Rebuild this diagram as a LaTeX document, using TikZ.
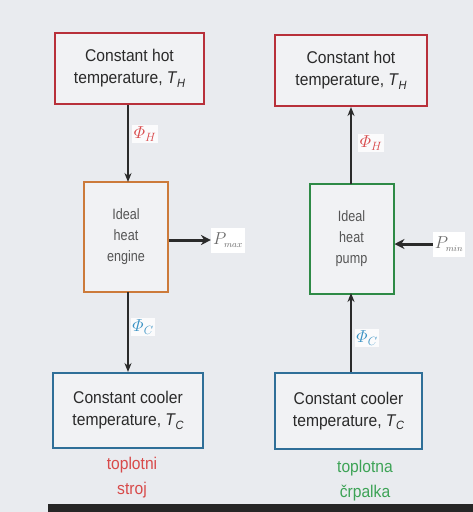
\documentclass[tikz,border=0pt]{standalone}
\usepackage{amsmath}
\usepackage{fontspec}
\setmainfont{Liberation Sans}
\newfontfamily\boxfont[FakeStretch=0.92]{Liberation Sans}
\newfontfamily\machfont[FakeStretch=0.84]{Liberation Sans}
\usetikzlibrary{arrows.meta}
\definecolor{bgc}{HTML}{E9EBEF}
\definecolor{boxfill}{HTML}{F1F2F4}
\definecolor{hotred}{HTML}{B8303A}
\definecolor{engor}{HTML}{CC7A3A}
\definecolor{pumpgreen}{HTML}{2E8A46}
\definecolor{coolbl}{HTML}{2F6F98}
\definecolor{phired}{HTML}{D8484A}
\definecolor{phiblue}{HTML}{3A92C4}
\definecolor{lblred}{HTML}{D84A4A}
\definecolor{lblgreen}{HTML}{3DA356}
\definecolor{inkc}{HTML}{2A2A2A}
\definecolor{machtext}{HTML}{555555}
\newcommand{\tsym}[1]{\textit{T\kern0.5pt\raisebox{-0.35ex}{\fontsize{12}{12}\selectfont #1}}}
\tikzset{
  resbox/.style={line width=2pt, fill=boxfill, align=center, inner sep=0pt,
    font=\boxfont\fontsize{17}{22}\selectfont, text=inkc},
  machbox/.style={line width=2pt, fill=boxfill, align=center, inner sep=0pt,
    minimum width=84pt, minimum height=110pt, font=\machfont\fontsize{15}{21}\selectfont, text=machtext},
  flow/.style={draw=inkc, line width=1.6pt, -{Stealth[length=9pt,width=7pt]}},
  power/.style={draw=inkc, line width=3pt, -{Stealth[length=10pt,width=10pt]}},
  phil/.style={fill=white!80!bgc, inner sep=1.5pt, font=\fontsize{17}{18}\selectfont},
  plab/.style={fill=white, inner sep=2pt, minimum height=25pt, font=\fontsize{19}{19}\selectfont, text=inkc!70},
  caption/.style={align=center, font=\boxfont\fontsize{17}{25}\selectfont}
}
\begin{document}
\begin{tikzpicture}[x=1pt,y=-1pt]
\useasboundingbox (0,0) rectangle (473,512);
\fill[bgc] (0,0) rectangle (473,512);
\fill[black!85] (48,504) rectangle (473,512);

\node[resbox, draw=hotred, minimum width=149pt, minimum height=71pt] (hotL) at (129.5,68.5) {Constant hot\\temperature, \tsym{H}};
\node[resbox, draw=hotred, minimum width=152pt, minimum height=71pt] (hotR) at (351,70.5) {Constant hot\\temperature, \tsym{H}};

\node[machbox, draw=engor] (eng) at (126,237) {Ideal\\heat\\engine};
\node[machbox, draw=pumpgreen] (pump) at (351.5,238.5) {Ideal\\heat\\pump};

\node[resbox, draw=coolbl, minimum width=150pt, minimum height=75pt] (coolL) at (128,410.5) {Constant cooler\\temperature, \tsym{C}};
\node[resbox, draw=coolbl, minimum width=147pt, minimum height=76pt] (coolR) at (348.5,411) {Constant cooler\\temperature, \tsym{C}};

% engine flows
\coordinate (eT) at (128,182);
\coordinate (eB) at (128,292);
\draw[flow] (hotL.south -| eT) -- (eT);
\draw[flow] (eB) -- (coolL.north -| eB);
\node[phil, text=phired] (phHL) at (145,134) {$\varPhi_{H}$};
\node[phil, text=phiblue] (phCL) at (143,327) {$\varPhi_C$};
\node[plab] (pmax) at (228,240) {$P_{\scriptscriptstyle max}$};
\draw[power] (eng.east |- pmax) -- (pmax.west);

% pump flows
\coordinate (pT) at (351,184);
\coordinate (pB) at (351,293);
\draw[flow] (pT) -- (hotR.south -| pT);
\draw[flow] (coolR.north -| pB) -- (pB);
\node[phil, text=phired] (phHR) at (371,143) {$\varPhi_{H}$};
\node[phil, text=phiblue] (phCR) at (367,338) {$\varPhi_C$};
\node[plab] (pmin) at (449,244) {$P_{\scriptscriptstyle min}$};
\draw[power] (pmin.west) -- (pump.east |- pmin);

\node[caption, text=lblred] (capL) at (132,478) {toplotni\\stroj};
\node[caption, text=lblgreen] (capR) at (365,481) {toplotna\\črpalka};
\end{tikzpicture}
\end{document}
